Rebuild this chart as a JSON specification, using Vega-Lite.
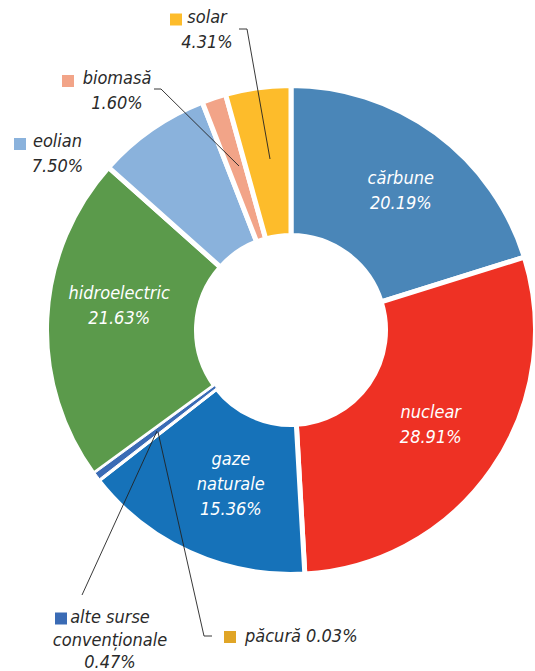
{
  "$schema": "https://vega.github.io/schema/vega-lite/v6.json",
  "width": 488,
  "height": 660,
  "autosize": "none",
  "padding": {"left": 47, "top": 0, "right": 0, "bottom": 11},
  "background": "white",
  "config": {
    "view": {"stroke": null},
    "text": {"font": "DejaVu Sans Condensed, DejaVu Sans, sans-serif", "fontStyle": "italic", "fontSize": 18, "lineBreak": "\n", "lineHeight": 25}
  },
  "data": {
    "values": [
      {"source": "cărbune", "share": 20.19, "rank": 1, "label": "cărbune\n20.19%"},
      {"source": "nuclear", "share": 28.91, "rank": 2, "label": "nuclear\n28.91%"},
      {"source": "gaze naturale", "share": 15.36, "rank": 3, "label": "gaze\nnaturale\n15.36%"},
      {"source": "păcură", "share": 0.03, "rank": 4, "label": "păcură 0.03%"},
      {"source": "alte surse convenționale", "share": 0.47, "rank": 5, "label": "alte surse\nconvenționale\n0.47%"},
      {"source": "hidroelectric", "share": 21.63, "rank": 6, "label": "hidroelectric\n21.63%"},
      {"source": "eolian", "share": 7.5, "rank": 7, "label": "eolian\n7.50%"},
      {"source": "biomasă", "share": 1.6, "rank": 8, "label": "biomasă\n1.60%"},
      {"source": "solar", "share": 4.31, "rank": 9, "label": "solar\n4.31%"}
    ]
  },
  "layer": [
    {
      "mark": {"type": "arc", "innerRadius": 94.5, "outerRadius": 244.5, "stroke": "white", "strokeWidth": 5},
      "encoding": {
        "theta": {"field": "share", "type": "quantitative", "stack": true},
        "order": {"field": "rank", "type": "quantitative"},
        "color": {"field": "source", "type": "nominal", "legend": null,
          "scale": {"domain": ["cărbune", "nuclear", "gaze naturale", "păcură", "alte surse convenționale", "hidroelectric", "eolian", "biomasă", "solar"],
                    "range": ["#4A86B8", "#EE3124", "#1672B9", "#E0A526", "#3A6BB5", "#5B9A4B", "#8AB2DC", "#F2A488", "#FDBC2B"]}}
      }
    },
    {
      "mark": {"type": "arc", "innerRadius": 94.5, "outerRadius": 242.5, "stroke": "white", "strokeWidth": 1},
      "encoding": {
        "theta": {"field": "share", "type": "quantitative", "stack": true},
        "order": {"field": "rank", "type": "quantitative"},
        "color": {"field": "source", "type": "nominal", "legend": null},
        "opacity": {"condition": {"test": "datum.share < 1", "value": 1}, "value": 0}
      }
    },
    {
      "mark": {"type": "text", "color": "white", "align": "center", "baseline": "middle", "dx": 9, "dy": -14},
      "encoding": {
        "theta": {"field": "share", "type": "quantitative", "stack": true},
        "order": {"field": "rank", "type": "quantitative"},
        "radius": {"value": 170},
        "text": {"condition": {"test": "datum.source === 'cărbune'", "field": "label"}, "value": ""}
      }
    },
    {
      "mark": {"type": "text", "color": "white", "align": "center", "baseline": "middle", "dx": 0, "dy": -14},
      "encoding": {
        "theta": {"field": "share", "type": "quantitative", "stack": true},
        "order": {"field": "rank", "type": "quantitative"},
        "radius": {"value": 170},
        "text": {"condition": {"test": "datum.source === 'nuclear'", "field": "label"}, "value": ""}
      }
    },
    {
      "mark": {"type": "text", "color": "white", "align": "center", "baseline": "middle", "dx": 10, "dy": -25},
      "encoding": {
        "theta": {"field": "share", "type": "quantitative", "stack": true},
        "order": {"field": "rank", "type": "quantitative"},
        "radius": {"value": 170},
        "text": {"condition": {"test": "datum.source === 'gaze naturale'", "field": "label"}, "value": ""}
      }
    },
    {
      "mark": {"type": "text", "color": "white", "align": "center", "baseline": "middle", "dx": -2, "dy": -28},
      "encoding": {
        "theta": {"field": "share", "type": "quantitative", "stack": true},
        "order": {"field": "rank", "type": "quantitative"},
        "radius": {"value": 170},
        "text": {"condition": {"test": "datum.source === 'hidroelectric'", "field": "label"}, "value": ""}
      }
    },
    {
      "transform": [{"filter": "datum.source === 'solar'"}],
      "mark": {"type": "rule", "color": "#222", "strokeWidth": 0.9},
      "encoding": {"x": {"value": 192}, "y": {"value": 29}, "x2": {"value": 200}, "y2": {"value": 29}}
    },
    {
      "transform": [{"filter": "datum.source === 'solar'"}],
      "mark": {"type": "rule", "color": "#222", "strokeWidth": 0.9},
      "encoding": {"x": {"value": 200}, "y": {"value": 29}, "x2": {"value": 223}, "y2": {"value": 159}}
    },
    {
      "transform": [{"filter": "datum.source === 'biomasă'"}],
      "mark": {"type": "rule", "color": "#222", "strokeWidth": 0.9},
      "encoding": {"x": {"value": 107}, "y": {"value": 89}, "x2": {"value": 114}, "y2": {"value": 89}}
    },
    {
      "transform": [{"filter": "datum.source === 'biomasă'"}],
      "mark": {"type": "rule", "color": "#222", "strokeWidth": 0.9},
      "encoding": {"x": {"value": 114}, "y": {"value": 89}, "x2": {"value": 192}, "y2": {"value": 166}}
    },
    {
      "transform": [{"filter": "datum.source === 'alte surse convenționale'"}],
      "mark": {"type": "rule", "color": "#222", "strokeWidth": 0.9},
      "encoding": {"x": {"value": 35}, "y": {"value": 595}, "x2": {"value": 110}, "y2": {"value": 431}}
    },
    {
      "transform": [{"filter": "datum.source === 'păcură'"}],
      "mark": {"type": "rule", "color": "#222", "strokeWidth": 0.9},
      "encoding": {"x": {"value": 165}, "y": {"value": 636}, "x2": {"value": 157}, "y2": {"value": 636}}
    },
    {
      "transform": [{"filter": "datum.source === 'păcură'"}],
      "mark": {"type": "rule", "color": "#222", "strokeWidth": 0.9},
      "encoding": {"x": {"value": 157}, "y": {"value": 636}, "x2": {"value": 111}, "y2": {"value": 432}}
    },
    {
      "transform": [{"filter": "datum.source === 'solar'"}],
      "mark": {"type": "square", "x": 129, "y": 19.5, "size": 144, "filled": true, "opacity": 1},
      "encoding": {"color": {"field": "source", "type": "nominal", "legend": null}}
    },
    {
      "transform": [{"filter": "datum.source === 'biomasă'"}],
      "mark": {"type": "square", "x": 21, "y": 81, "size": 144, "filled": true, "opacity": 1},
      "encoding": {"color": {"field": "source", "type": "nominal", "legend": null}}
    },
    {
      "transform": [{"filter": "datum.source === 'eolian'"}],
      "mark": {"type": "square", "x": -27, "y": 144, "size": 144, "filled": true, "opacity": 1},
      "encoding": {"color": {"field": "source", "type": "nominal", "legend": null}}
    },
    {
      "transform": [{"filter": "datum.source === 'alte surse convenționale'"}],
      "mark": {"type": "square", "x": 14, "y": 618.5, "size": 144, "filled": true, "opacity": 1},
      "encoding": {"color": {"field": "source", "type": "nominal", "legend": null}}
    },
    {
      "transform": [{"filter": "datum.source === 'păcură'"}],
      "mark": {"type": "square", "x": 183, "y": 637, "size": 144, "filled": true, "opacity": 1},
      "encoding": {"color": {"field": "source", "type": "nominal", "legend": null}}
    },
    {
      "transform": [{"filter": "datum.source === 'solar'"}],
      "mark": {"type": "text", "x": 160, "y": 18, "align": "center", "baseline": "middle", "color": "#2a2a2a"},
      "encoding": {"text": {"field": "label"}}
    },
    {
      "transform": [{"filter": "datum.source === 'biomasă'"}],
      "mark": {"type": "text", "x": 70, "y": 79, "align": "center", "baseline": "middle", "color": "#2a2a2a"},
      "encoding": {"text": {"field": "label"}}
    },
    {
      "transform": [{"filter": "datum.source === 'eolian'"}],
      "mark": {"type": "text", "x": 10.5, "y": 142, "align": "center", "baseline": "middle", "color": "#2a2a2a"},
      "encoding": {"text": {"field": "label"}}
    },
    {
      "transform": [{"filter": "datum.source === 'alte surse convenționale'"}],
      "mark": {"type": "text", "x": 63, "y": 618, "align": "center", "baseline": "middle", "lineHeight": 22.5, "color": "#2a2a2a"},
      "encoding": {"text": {"field": "label"}}
    },
    {
      "transform": [{"filter": "datum.source === 'păcură'"}],
      "mark": {"type": "text", "x": 198, "y": 637, "align": "left", "baseline": "middle", "color": "#2a2a2a"},
      "encoding": {"text": {"field": "label"}}
    }
  ]
}
